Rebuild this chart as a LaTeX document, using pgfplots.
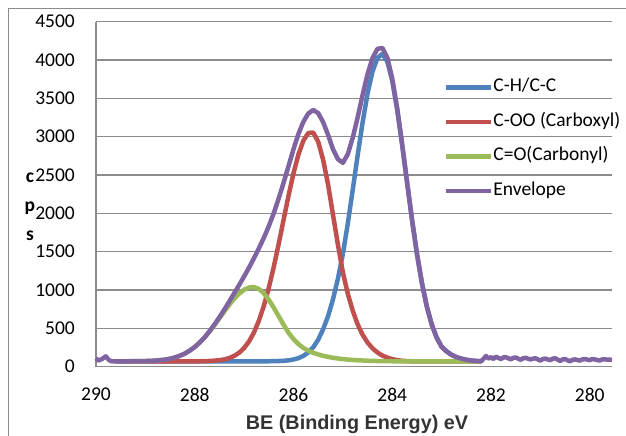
\documentclass[border=0pt]{standalone}
\usepackage{pgfplots}
\pgfplotsset{compat=1.18}
\usepackage{fontspec}
\setmainfont{Carlito}
\newfontfamily\arialfont{Liberation Sans}
\definecolor{chblue}{HTML}{4F81BD}
\definecolor{cored}{HTML}{C0504D}
\definecolor{cogreen}{HTML}{9BBB59}
\definecolor{envpurple}{HTML}{8064A2}
\definecolor{gridgray}{HTML}{8C8C8C}

\begin{document}
\begin{tikzpicture}
\useasboundingbox (-96bp,-69.3bp) rectangle (530bp,366.7bp);
\draw[gridgray, line width=1bp] (-87bp,-69.3bp) -- (-87bp,357.7bp) -- (530bp,357.7bp);
\begin{axis}[
  at={(0,0)}, anchor=south west,
  width=516bp, height=345bp, scale only axis,
  x dir=reverse, xmin=279.55, xmax=290,
  ymin=0, ymax=4500,
  xtick={280,282,...,290}, ytick={0,500,...,4500},
  axis lines*=left,
  axis line style={gridgray, line width=1.2bp},
  ymajorgrids, grid style={gridgray, line width=1.2bp},
  major tick length=0pt,
  clip=false,
  /pgf/number format/assume math mode=true,
  /pgf/number format/1000 sep={},
  tick label style={font=\fontsize{19.5bp}{23bp}\selectfont},
  yticklabel style={inner sep=0pt, xshift=-21bp},
  xticklabel style={inner sep=0pt, yshift=-21bp},
  xlabel={\arialfont\bfseries BE (Binding Energy) eV},
  xlabel style={at={(axis description cs:0.5,0)}, anchor=base, yshift=-63bp, xshift=3bp,
    font=\fontsize{19.8bp}{24bp}\selectfont, text=black!80},
  ylabel={c\\p\\s},
  ylabel style={rotate=-90, at={(axis description cs:-0.128,0.465)}, anchor=center,
    align=center, font=\fontsize{19.5bp}{29bp}\selectfont\bfseries},
  legend style={draw=none, fill=none, at={(0.674,0.835)}, anchor=north west,
    font=\fontsize{19.5bp}{23bp}\selectfont, row sep=17.5bp, inner sep=0pt,
    nodes={inner sep=0pt, text height=13bp, text depth=4bp}},
  legend cell align=left,
  legend image code/.code={\draw[#1, line width=4.5bp, line cap=round] (2bp,0bp) -- (39bp,0bp);
    \path (0bp,0bp) -- (45bp,0bp);},
]
% C-H/C-C
\addplot[color=chblue, line width=4.5bp, line join=round, mark=none] coordinates {
(289.6,70) (286.6,70) (286.5,71) (286.4,72) (286.3,74) (286.2,77) (286.1,83)
(286.0,94) (285.9,112) (285.8,141) (285.7,186) (285.6,254) (285.5,352)
(285.4,489) (285.3,660) (285.2,880) (285.1,1150) (285.0,1470) (284.9,1870)
(284.8,2310) (284.7,2760) (284.6,3190) (284.5,3565) (284.4,3850) (284.3,4027)
(284.2,4080) (284.1,3980) (284.0,3728) (283.9,3353) (283.8,2896) (283.7,2403)
(283.6,1918) (283.5,1473) (283.4,1093) (283.3,785) (283.2,549) (283.1,378)
(283.0,260) (282.9,200) (282.8,155) (282.7,125) (282.6,105) (282.5,90)
(282.4,80) (282.3,75) (282.2,70)
};
% C-OO
\addplot[color=cored, line width=4.5bp, line join=round, mark=none] coordinates {
(289.6,70) (287.9,71) (287.8,72) (287.7,75) (287.6,79) (287.5,85) (287.4,95)
(287.3,113) (287.2,141) (287.1,183) (287.0,244) (286.9,330) (286.8,448)
(286.7,602) (286.6,795) (286.5,1030) (286.4,1301) (286.3,1602) (286.2,1919)
(286.1,2233) (286.0,2523) (285.9,2769) (285.8,2949) (285.7,3049) (285.6,3054)
(285.5,2935) (285.4,2699) (285.3,2376) (285.2,1980) (285.1,1590) (285.0,1230)
(284.9,950) (284.8,730) (284.7,550) (284.6,415) (284.5,315) (284.4,240)
(284.3,185) (284.2,145) (284.1,118) (284.0,98) (283.9,85) (283.8,77)
(283.7,73) (283.6,70) (282.2,70)
};
% C=O
\addplot[color=cogreen, line width=4.5bp, line join=round, mark=none] coordinates {
(289.6,70) (289.2,72) (289.1,73) (289.0,74) (288.9,76) (288.8,79) (288.7,85)
(288.6,93) (288.5,104) (288.4,121) (288.3,143) (288.2,172) (288.1,210)
(288.0,257) (287.9,314) (287.8,381) (287.7,458) (287.6,542) (287.5,631)
(287.4,721) (287.3,808) (287.2,888) (287.1,954) (287.0,1004) (286.9,1033)
(286.8,1039) (286.7,1014) (286.6,957) (286.5,873) (286.4,770) (286.3,658)
(286.2,546) (286.1,442) (286.0,360) (285.9,295) (285.8,245) (285.7,208)
(285.6,180) (285.5,160) (285.4,142) (285.3,128) (285.2,116) (285.1,107)
(285.0,99) (284.9,93) (284.8,88) (284.7,84) (284.6,81) (284.5,78) (284.4,76)
(284.3,74) (284.2,73) (284.1,72) (283.9,70) (282.2,70)
};
% envelope
\addplot[color=envpurple, line width=4.5bp, line join=round, mark=none] coordinates {
(290.0,110) (289.95,80) (289.88,100) (289.8,135) (289.75,95) (289.7,72)
(289.6,70) (289.4,71) (289.3,71) (289.2,72) (289.1,73) (289.0,74) (288.9,76)
(288.8,79) (288.7,85) (288.6,93) (288.5,104) (288.4,121) (288.3,143)
(288.2,172) (288.1,210) (288.0,257) (287.9,315) (287.8,383) (287.7,463)
(287.6,551) (287.5,646) (287.4,746) (287.3,851) (287.2,959) (287.1,1067)
(287.0,1178) (286.9,1293) (286.8,1417) (286.7,1546) (286.6,1682) (286.5,1834)
(286.4,2003) (286.3,2194) (286.2,2402) (286.1,2618) (286.0,2837) (285.9,3036)
(285.8,3195) (285.7,3303) (285.6,3348) (285.5,3307) (285.4,3190) (285.3,3024)
(285.2,2836) (285.1,2707) (285.0,2659) (284.9,2773) (284.8,2988) (284.7,3254)
(284.6,3546) (284.5,3818) (284.4,4026) (284.3,4146) (284.2,4158) (284.1,4030)
(284.0,3757) (283.9,3368) (283.8,2903) (283.7,2406) (283.6,1918) (283.5,1473)
(283.4,1093) (283.3,785) (283.2,549) (283.1,378) (283.0,260) (282.9,200)
(282.8,155) (282.7,125) (282.6,105) (282.5,90) (282.4,80) (282.3,75)
(282.2,70) (282.1,140) (282.05,105) (282.0,125) (281.95,100) (281.9,130)
(281.8,100) (281.75,120) (281.7,125) (281.6,95) (281.55,115) (281.5,120)
(281.4,90) (281.35,110) (281.3,115) (281.2,95) (281.15,105) (281.1,110)
(281.0,80) (280.95,100) (280.9,105) (280.8,85) (280.75,105) (280.7,110)
(280.6,75) (280.55,95) (280.5,100) (280.4,70) (280.35,90) (280.3,95)
(280.2,80) (280.15,95) (280.1,100) (280.0,85) (279.95,100) (279.9,95)
(279.8,80) (279.75,95) (279.7,95) (279.55,90)
};
\legend{C-H/C-C, C-OO (Carboxyl), C=O(Carbonyl), Envelope}
\end{axis}
\end{tikzpicture}
\end{document}
